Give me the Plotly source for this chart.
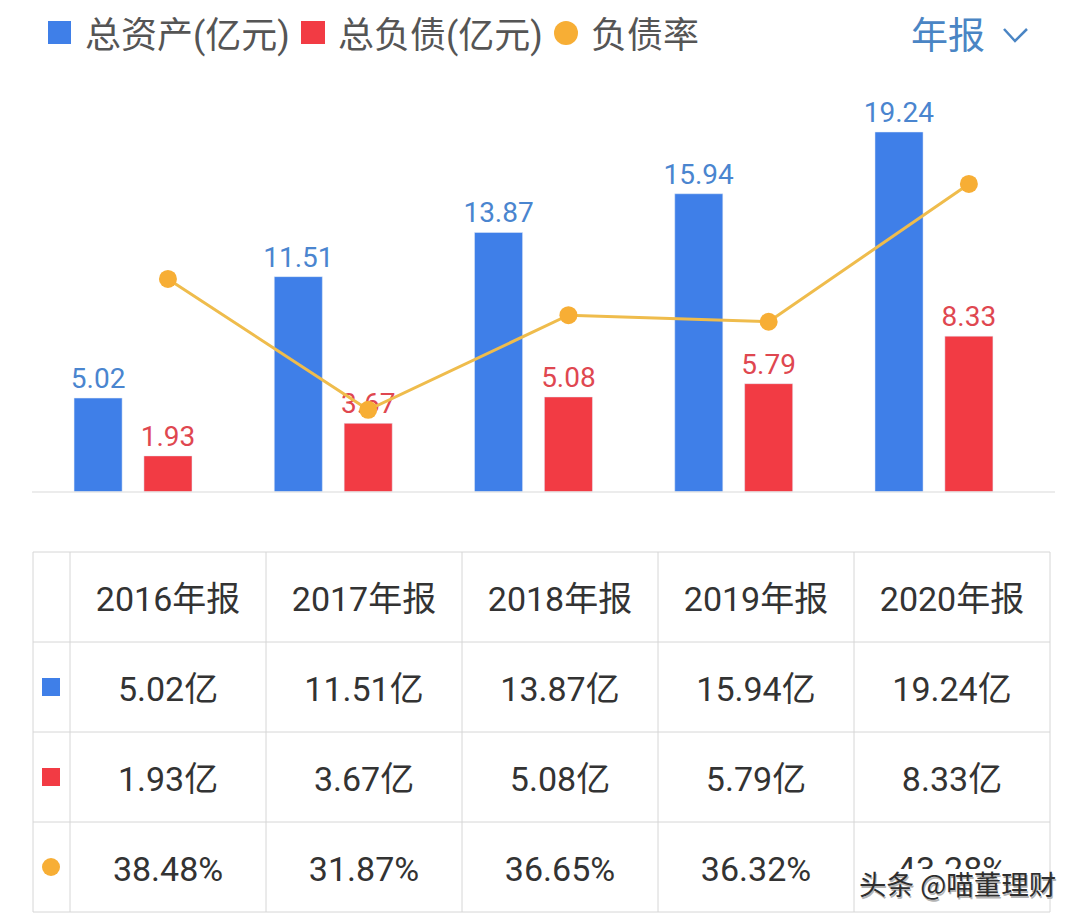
import plotly.graph_objects as go

W = 1080
H = 921

years = ["2016年报", "2017年报", "2018年报", "2019年报", "2020年报"]
assets = [5.02, 11.51, 13.87, 15.94, 19.24]
debts = [1.93, 3.67, 5.08, 5.79, 8.33]
ratios = [38.48, 31.87, 36.65, 36.32, 43.28]
rows = ["header", "assets", "debts", "ratios"]

BLUE = "#3f7fe8"
RED = "#f23b44"
ORANGE = "#f7ae35"
LINE = "#efbc4c"
GRID = "#d6d6d6"
TEXT = "#333333"
NUM_FONT = "Roboto, 'Noto Sans CJK SC', sans-serif"
CJK_FONT = "'Noto Sans CJK SC', sans-serif"


def px_x(x):
    return x / W


def px_y(y):
    return 1 - y / H


fig = go.Figure()

fig.add_trace(go.Bar(
    x=years, y=assets, name="总资产(亿元)", marker_color=BLUE,
    width=0.24, offset=-0.469,
    text=[f"{v:.2f}" for v in assets], textposition="outside",
    constraintext="none",
    textfont=dict(family=NUM_FONT, size=28, color="#4a85cf"),
    cliponaxis=False,
))
fig.add_trace(go.Bar(
    x=years, y=debts, name="总负债(亿元)", marker_color=RED,
    width=0.24, offset=-0.12,
    text=[f"{v:.2f}" for v in debts], textposition="outside",
    constraintext="none",
    textfont=dict(family=NUM_FONT, size=28, color="#df4750"),
    cliponaxis=False,
))
fig.add_trace(go.Scatter(
    x=years, y=ratios, name="负债率", yaxis="y2", mode="lines+markers",
    line=dict(color=LINE, width=3),
    marker=dict(color=ORANGE, size=18),
    cliponaxis=False,
))

# table below the chart
table_cells = [
    (rows[0], years),
    (rows[1], [f"{v:.2f}亿" for v in assets]),
    (rows[2], [f"{v:.2f}亿" for v in debts]),
    (rows[3], [f"{v:.2f}%" for v in ratios]),
]
for row, labels in table_cells:
    fig.add_trace(go.Scatter(
        x=years, y=[row] * len(years), text=labels, mode="text",
        xaxis="x3", yaxis="y3", showlegend=False,
        textposition="middle center",
        textfont=dict(family=NUM_FONT, size=34, color=TEXT),
    ))

shapes = [dict(type="line", xref="paper", yref="paper",
               x0=px_x(32), x1=px_x(1055), y0=px_y(492), y1=px_y(492),
               line=dict(color="#e6e6e6", width=1.5))]

for x in [33, 70, 266, 462, 658, 854, 1050]:
    shapes.append(dict(type="line", xref="paper", yref="paper",
                       x0=px_x(x), x1=px_x(x), y0=px_y(552), y1=px_y(912),
                       line=dict(color=GRID, width=1)))
for y in [552, 642, 732, 822, 912]:
    shapes.append(dict(type="line", xref="paper", yref="paper",
                       x0=px_x(33), x1=px_x(1050), y0=px_y(y), y1=px_y(y),
                       line=dict(color=GRID, width=1)))


def swatch(kind, x0, x1, y0, y1, color):
    shapes.append(dict(type=kind, xref="paper", yref="paper",
                       x0=px_x(x0), x1=px_x(x1), y0=px_y(y0), y1=px_y(y1),
                       fillcolor=color, line=dict(width=0)))


# legend row
swatch("rect", 48, 71, 21, 44, BLUE)
swatch("rect", 301, 325, 21, 44, RED)
swatch("circle", 554, 578, 21, 45, ORANGE)
# table row keys
swatch("rect", 42, 60, 678, 696, BLUE)
swatch("rect", 42, 60, 768, 786, RED)
swatch("circle", 42, 60, 858, 876, ORANGE)

# watermark wipes the lower half of the last cell
shapes.append(dict(type="rect", xref="paper", yref="paper", layer="above",
                   x0=px_x(856), x1=px_x(1048), y0=px_y(869), y1=px_y(892),
                   fillcolor="#ffffff", line=dict(width=0)))

# dropdown chevron
shapes.append(dict(
    type="path", xref="paper", yref="paper",
    path=f"M {px_x(1004)} {px_y(29)} L {px_x(1015)} {px_y(41)} L {px_x(1027)} {px_y(29)}",
    line=dict(color="#4a85c4", width=2.5),
))


def label(text, x, y, size, color, anchor="left", **kw):
    font = dict(family=kw.pop("family", NUM_FONT), size=size, color=color)
    font.update(kw.pop("font_extra", {}))
    return dict(text=text, xref="paper", yref="paper", x=px_x(x), y=px_y(y),
                xanchor=anchor, yanchor="middle", showarrow=False,
                font=font, **kw)


annotations = [
    label("总资产(亿元)", 83, 36, 36, "#555555"),
    label("总负债(亿元)", 336, 36, 36, "#555555"),
    label("负债率", 589, 36, 36, "#555555"),
    label("年报", 909, 36, 37, "#4a85c4"),
    label("头条 @喵董理财", 857, 883, 27.5, "#2e2e2e", family=CJK_FONT,
          font_extra=dict(shadow="1px 2px 0 #b5b5b5")),
]

fig.update_layout(
    width=W,
    height=H,
    margin=dict(l=0, r=0, t=0, b=0),
    paper_bgcolor="#ffffff",
    plot_bgcolor="#ffffff",
    barmode="overlay",
    showlegend=False,
    shapes=shapes,
    annotations=annotations,
    xaxis=dict(domain=[px_x(32), px_x(1055)], range=[-0.679, 4.43],
               type="category", categoryorder="array", categoryarray=years,
               visible=False),
    yaxis=dict(domain=[px_y(492), px_y(100)], range=[0, 20.95], visible=False),
    yaxis2=dict(overlaying="y", side="right", range=[27.72, 47.52], visible=False),
    xaxis3=dict(domain=[px_x(33), px_x(1050)], range=[-0.689, 4.5],
                type="category", categoryorder="array", categoryarray=years,
                anchor="y3", visible=False),
    yaxis3=dict(domain=[px_y(917), px_y(557)], range=[3.5, -0.5],
                type="category", categoryorder="array", categoryarray=rows,
                anchor="x3", visible=False),
)

fig.write_html("out.html", config={"displayModeBar": False},
               post_script="document.body.style.margin='0';")
